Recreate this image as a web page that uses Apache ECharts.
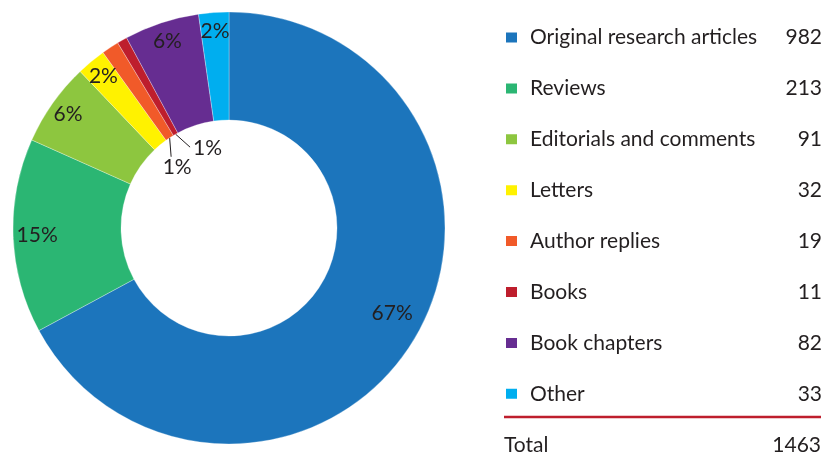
<!DOCTYPE html>
<html>
<head>
<meta charset="utf-8">
<script src="https://cdn.jsdelivr.net/npm/echarts@6/dist/echarts.min.js"></script>
<style>
  html, body { margin: 0; padding: 0; background: #fff; }
  #chart { width: 824px; height: 455px; }
</style>
</head>
<body>
<div id="chart"></div>
<script>
    const categories = ['Original research articles', 'Reviews', 'Editorials and comments', 'Letters',
        'Author replies', 'Books', 'Book chapters', 'Other'];
    const counts = [982, 213, 91, 32, 19, 11, 82, 33];
    const colors = ['#1c75bc', '#2bb673', '#8dc63f', '#fff200', '#f15a29', '#be1e2d', '#662d91', '#00aeef'];

    const total = counts.reduce((a, b) => a + b, 0);
    const font = 'Lato';
    const fs = 21;
    const ink = '#231f20';
    const center = [229, 228];
    const rInner = 108, rOuter = 216;

    // label placement tweaks (radius / angle in degrees clockwise from top)
    const labelTweak = { 0: { r: 184, angle: 117.5 }, 1: { r: 192 } };
    // small slices get their label pulled into the hole with a leader line
    const holeLabels = {
        4: { line: [1.5, 19], text: [7.5, 29], align: 'center' },
        5: { line: [14.5, 13], text: [17.5, 14], align: 'left' }
    };

    function midAngle(i) {
        let before = 0;
        for (let k = 0; k < i; k++) before += counts[k];
        return (before + counts[i] / 2) / total * 360;
    }
    function polar(deg, r) {
        const a = deg * Math.PI / 180;
        return [center[0] + r * Math.sin(a), center[1] - r * Math.cos(a)];
    }

    const chart = echarts.init(document.getElementById('chart'));

    chart.setOption({
        backgroundColor: '#fff',
        color: colors,
        animation: false,
        legend: {
            orient: 'vertical',
            left: 504,
            top: 27,
            padding: 0,
            itemWidth: 13,
            itemHeight: 12,
            itemGap: 29.9,
            icon: 'rect',
            selectedMode: false,
            data: categories,
            formatter: function (name) {
                return '{n|' + name + '}{v|' + counts[categories.indexOf(name)] + '}';
            },
            textStyle: {
                fontFamily: font,
                fontSize: fs,
                color: ink,
                rich: {
                    n: { fontFamily: font, fontSize: fs, color: ink, width: 230, padding: [0, 0, 0, 7] },
                    v: { fontFamily: font, fontSize: fs, color: ink, width: 62, align: 'right' }
                }
            }
        },
        graphic: [
            {
                type: 'line',
                shape: { x1: 504, y1: 417, x2: 821, y2: 417 },
                style: { stroke: '#be1e2d', lineWidth: 2.5 }
            },
            {
                type: 'text',
                x: 504,
                y: 445,
                style: { text: 'Total', font: fs + 'px ' + font, fill: ink, verticalAlign: 'middle' }
            },
            {
                type: 'text',
                x: 821,
                y: 445,
                style: { text: String(total), font: fs + 'px ' + font, fill: ink, align: 'right', verticalAlign: 'middle' }
            }
        ],
        series: [{
            type: 'pie',
            center: center,
            radius: [rInner, rOuter],
            startAngle: 90,
            clockwise: true,
            avoidLabelOverlap: false,
            itemStyle: { borderColor: '#fff', borderWidth: 0.3 },
            label: {
                show: true,
                position: 'inside',
                fontFamily: font,
                fontSize: fs,
                color: ink,
                formatter: function (p) {
                    return Math.round(p.value / total * 100) + '%';
                }
            },
            emphasis: { disabled: true },
            labelLayout: function (p) {
                const i = p.dataIndex;
                const hole = holeLabels[i];
                if (hole) {
                    const a = polar(midAngle(i), rInner);
                    return {
                        x: a[0] + hole.text[0],
                        y: a[1] + hole.text[1],
                        align: hole.align,
                        verticalAlign: 'middle',
                        labelLinePoints: [a, [a[0] + hole.line[0], a[1] + hole.line[1]]]
                    };
                }
                const t = labelTweak[i] || {};
                const pt = polar(t.angle != null ? t.angle : midAngle(i), t.r || 197);
                return { x: pt[0], y: pt[1], align: 'center', verticalAlign: 'middle' };
            },
            data: categories.map(function (name, i) {
                const item = { name: name, value: counts[i] };
                if (holeLabels[i]) {
                    item.label = { position: 'outside' };
                    item.labelLine = { show: true, length: 5, length2: 5, lineStyle: { color: ink, width: 1 } };
                }
                return item;
            })
        }]
    });
</script>
</body>
</html>
